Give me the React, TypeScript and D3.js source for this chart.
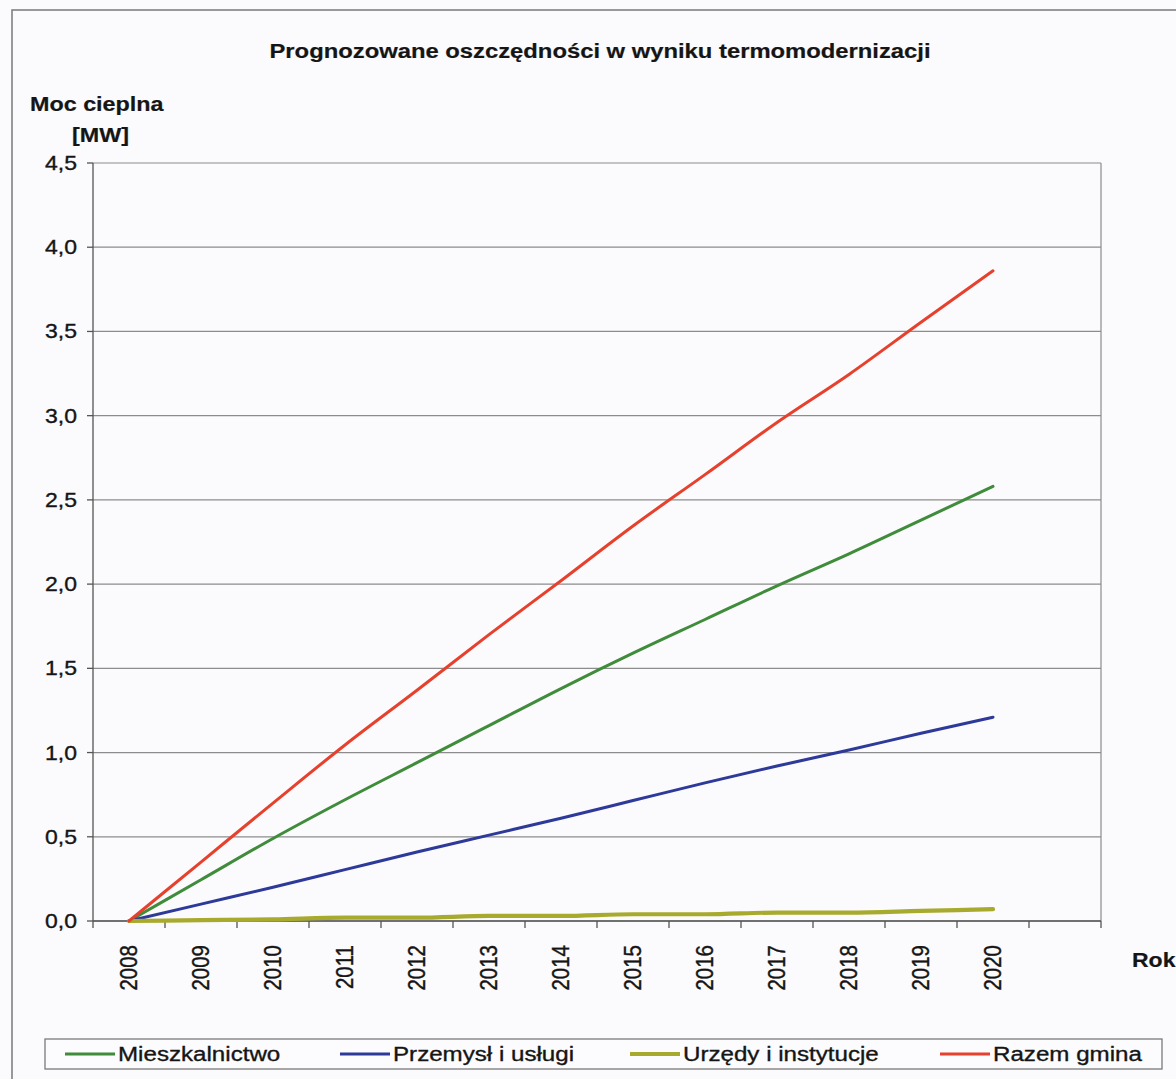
import React from "react";
import * as d3 from "d3";

// Years on the category axis; the trailing blank slot leaves an empty band after 2020
const categories = ["2008", "2009", "2010", "2011", "2012", "2013", "2014", "2015", "2016", "2017", "2018", "2019", "2020", ""];
const years = ["2008", "2009", "2010", "2011", "2012", "2013", "2014", "2015", "2016", "2017", "2018", "2019", "2020"];

// Heat-power savings [MW]
const mieszkalnictwo = [0, 0.245, 0.49, 0.72, 0.94, 1.16, 1.38, 1.59, 1.79, 1.99, 2.18, 2.38, 2.58];
const przemysl = [0, 0.1, 0.2, 0.305, 0.41, 0.51, 0.61, 0.715, 0.82, 0.92, 1.015, 1.115, 1.21];
const urzedy = [0, 0.005, 0.01, 0.02, 0.02, 0.03, 0.03, 0.04, 0.04, 0.05, 0.05, 0.06, 0.07];
const razem = [0, 0.35, 0.7, 1.045, 1.37, 1.7, 2.02, 2.345, 2.65, 2.96, 3.245, 3.555, 3.86];

const yTicks = [0, 0.5, 1, 1.5, 2, 2.5, 3, 3.5, 4, 4.5];

const seriesNames = ["Mieszkalnictwo", "Przemysł i usługi", "Urzędy i instytucje", "Razem gmina"];
const seriesValues = [mieszkalnictwo, przemysl, urzedy, razem];
const seriesColors = ["#3f8c3a", "#2d3a99", "#a8aa2e", "#e6412d"];
const seriesWidths = [3, 3, 4.2, 3];

const W = 1176;
const H = 1079;
const SX = 1.15; // glyph stretch
const FONT = "'Liberation Sans', Arial, sans-serif";

const plot = { left: 93, right: 1101, top: 163, bottom: 921 };

function T({ x, y, size = 20, bold = false, anchor = "start", rotate = 0, baseline = "auto", children }: any) {
  const tr = `translate(${x},${y}) scale(${SX},1)` + (rotate ? ` rotate(${rotate})` : "");
  return (
    <text
      transform={tr}
      fontFamily={FONT}
      fontSize={size}
      fontWeight={bold ? "bold" : "normal"}
      textAnchor={anchor}
      dominantBaseline={baseline}
      fill="#151515"
      stroke="#151515"
      strokeWidth={bold ? 0.2 : 0.35}
    >
      {children}
    </text>
  );
}

export default function App() {
  const x = d3.scaleBand<string>().domain(categories).range([plot.left, plot.right]).paddingInner(0).paddingOuter(0);
  const y = d3.scaleLinear().domain([0, 4.5]).range([plot.bottom, plot.top]);
  const cx = (c: string) => (x(c) as number) + x.bandwidth() / 2;

  const line = d3
    .line<number>()
    .x((_, i) => cx(years[i]))
    .y((d) => y(d))
    .curve(d3.curveMonotoneX);

  const tickBounds = categories.map((c) => x(c) as number).concat([plot.right]);

  const legendX = [65, 340, 630, 940];

  return (
    <svg width={W} height={H} style={{ position: "absolute", left: 0, top: 0, background: "#fbfafd" }}>
      <rect x={0} y={0} width={W} height={H} fill="#fbfafd" />
      {/* outer chart frame */}
      <path d={`M12,${H + 2} L12,10 L${W + 2},10`} fill="none" stroke="#7a7a7a" strokeWidth={1.5} />

      <T x={600} y={58} size={20.7} bold anchor="middle">Prognozowane oszczędności w wyniku termomodernizacji</T>
      <T x={30} y={111} size={20.3} bold>Moc cieplna</T>
      <T x={72} y={142} size={20.3} bold>[MW]</T>

      {/* grid */}
      {yTicks.map((t) => (
        <line key={t} x1={plot.left} x2={plot.right} y1={y(t)} y2={y(t)} stroke="#8c8c8c" strokeWidth={1.2} />
      ))}
      <line x1={plot.right} x2={plot.right} y1={plot.top} y2={plot.bottom} stroke="#8c8c8c" strokeWidth={1.2} />

      {/* y axis */}
      <line x1={plot.left} x2={plot.left} y1={plot.top} y2={plot.bottom} stroke="#555" strokeWidth={1.3} />
      {yTicks.map((t) => (
        <g key={"yt" + t}>
          <line x1={plot.left - 6} x2={plot.left} y1={y(t)} y2={y(t)} stroke="#555" strokeWidth={1.3} />
          <T x={77} y={y(t)} anchor="end" baseline="central">{d3.format(".1f")(t).replace(".", ",")}</T>
        </g>
      ))}

      {/* x axis */}
      <line x1={plot.left} x2={plot.right} y1={plot.bottom} y2={plot.bottom} stroke="#555" strokeWidth={1.3} />
      {tickBounds.map((b, i) => (
        <line key={"xt" + i} x1={b} x2={b} y1={plot.bottom} y2={plot.bottom + 7} stroke="#555" strokeWidth={1.3} />
      ))}
      {years.map((c) => (
        <T key={"xl" + c} x={cx(c)} y={945} size={20.5} anchor="end" rotate={-90} baseline="central">{c}</T>
      ))}
      <T x={1132} y={967} bold>Rok</T>

      {/* series */}
      {seriesValues.map((vals, i) => (
        <path
          key={seriesNames[i]}
          d={line(vals) as string}
          fill="none"
          stroke={seriesColors[i]}
          strokeWidth={seriesWidths[i]}
          strokeLinejoin="round"
          strokeLinecap="round"
        />
      ))}

      {/* legend */}
      <rect x={45} y={1039} width={1117} height={30} fill="#fcfbfe" stroke="#7a7a7a" strokeWidth={1.3} />
      {seriesNames.map((n, i) => (
        <g key={"lg" + n}>
          <line x1={legendX[i]} x2={legendX[i] + 50} y1={1054} y2={1054} stroke={seriesColors[i]} strokeWidth={seriesWidths[i]} />
          <T x={legendX[i] + 53} y={1054} size={21} baseline="central">{n}</T>
        </g>
      ))}
    </svg>
  );
}
